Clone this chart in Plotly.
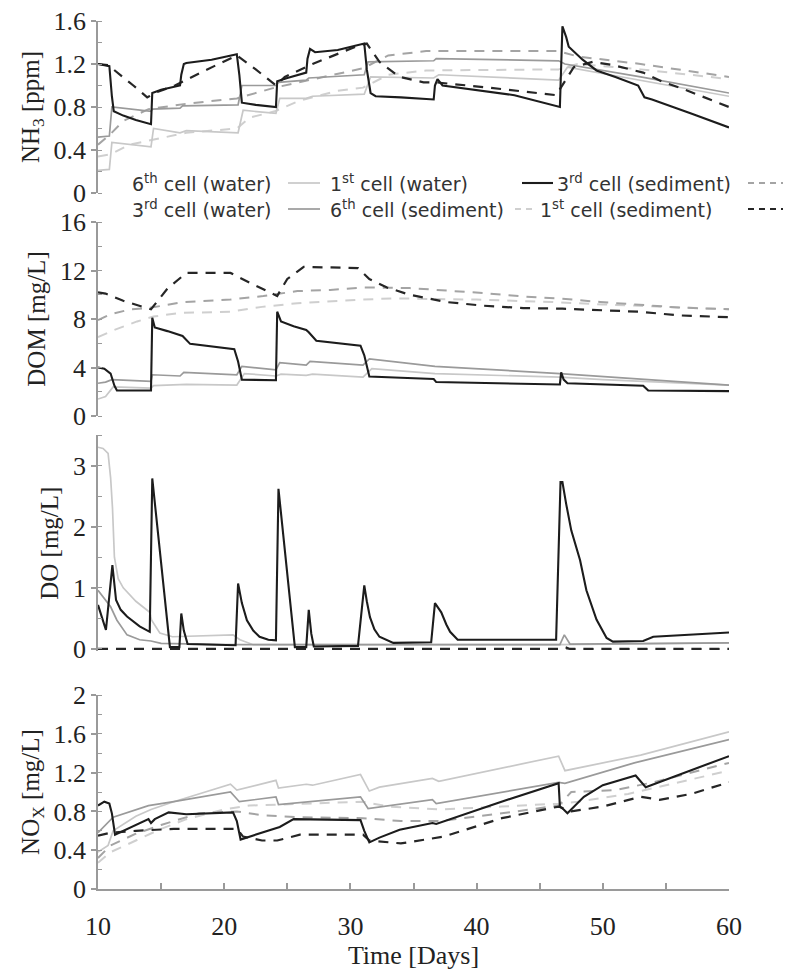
import plotly.graph_objects as go

# ---------------- data ----------------
SERIES = ["6S", "3S", "6W", "3W", "1S", "1W"]
NAMES = {
    "6W": "6<sup>th</sup> cell (water)",
    "3W": "3<sup>rd</sup> cell (water)",
    "1W": "1<sup>st</sup> cell (water)",
    "6S": "6<sup>th</sup> cell (sediment)",
    "3S": "3<sup>rd</sup> cell (sediment)",
    "1S": "1<sup>st</sup> cell (sediment)",
}

# NH3 [ppm]
NH3_T_1W = [10, 10.9, 11.1, 11.25, 12, 13, 14.2, 14.3, 15, 16.5, 16.6, 16.8, 17, 19, 21, 21.2, 21.4, 22.5, 24.1, 24.2,
            25, 26.5, 26.6, 26.8, 27.2, 29, 31.1, 31.3, 31.6, 32, 34, 36.6, 36.7, 36.9, 37.3, 40, 43, 46.6, 46.7,
            46.8, 47.1, 47.3, 48.4, 49.5, 51, 52.8, 53.3, 53.9, 57, 60]
NH3_V_1W = [1.2, 1.18, 0.9, 0.76, 0.72, 0.68, 0.64, 0.93, 0.96, 1.0, 1.1, 1.2, 1.21, 1.24, 1.29, 1.1, 0.84, 0.82, 0.8, 1.04,
            1.07, 1.12, 1.25, 1.34, 1.31, 1.33, 1.39, 1.15, 0.93, 0.9, 0.89, 0.87, 1.0, 1.06, 1.0, 0.96, 0.91, 0.8, 1.2,
            1.55, 1.45, 1.36, 1.24, 1.14, 1.08, 1.0, 0.89, 0.87, 0.74, 0.61]
NH3_T_1S = [10, 10.8, 12.8, 13.9, 14.7, 16.1, 18.3, 21, 22.5, 24.1, 24.8, 27, 30.6, 31.3, 32.3, 33.9, 35.8, 36.7, 41,
            46.3, 47.7, 49.2, 50.8, 53.2, 54.8, 56.1, 60]
NH3_V_1S = [1.2, 1.19, 1.0, 0.89, 0.94, 1.0, 1.13, 1.28, 1.15, 1.0, 1.08, 1.2, 1.37, 1.39, 1.22, 1.08, 1.03, 1.03, 0.98,
            0.91, 1.17, 1.22, 1.19, 1.12, 1.03, 0.98, 0.8]
NH3_T_3W = [10, 10.9, 11.1, 14.2, 14.3, 16.5, 16.7, 21.1, 21.4, 24.1, 24.3, 26.5, 26.7, 31.1, 31.4, 36.6, 36.8, 46.5,
            47, 53, 60]
NH3_V_3W = [0.52, 0.53, 0.8, 0.76, 0.78, 0.79, 0.81, 0.82, 1.0, 1.0, 1.03, 1.05, 1.07, 1.1, 1.22, 1.23, 1.25, 1.23,
            1.2, 1.08, 0.93]
NH3_T_6W = [10, 10.9, 11.1, 14.2, 14.4, 16.5, 17, 21.1, 21.5, 24.1, 24.4, 26.5, 27, 31.1, 31.6, 36.6, 37, 46.5, 47.2,
            53, 60]
NH3_V_6W = [0.21, 0.22, 0.47, 0.43, 0.6, 0.56, 0.58, 0.56, 0.77, 0.74, 0.88, 0.88, 0.9, 0.92, 1.08, 1.07, 1.1, 1.05,
            1.17, 1.05, 0.9]
NH3_T_3S = [10, 11, 12, 14, 17, 21, 24, 28, 31, 33, 36, 46.5, 48, 53, 60]
NH3_V_3S = [0.45, 0.55, 0.67, 0.78, 0.83, 0.88, 0.98, 1.08, 1.16, 1.28, 1.32, 1.32, 1.27, 1.2, 1.08]
NH3_T_6S = [10, 11, 12.5, 14.5, 17, 21, 22, 24, 26, 29, 31, 33, 36, 46.5, 48, 53, 60]
NH3_V_6S = [0.34, 0.36, 0.45, 0.5, 0.56, 0.6, 0.7, 0.76, 0.86, 0.95, 0.98, 1.1, 1.14, 1.15, 1.2, 1.15, 1.06]

# DOM [mg/L]
DOM_T_1W = [10, 10.5, 11, 11.3, 11.5, 14.2, 14.3, 14.5, 15.5, 16.5, 16.7, 17.3, 19, 20.8, 21.1, 21.4, 24.1, 24.2,
            24.5, 25.5, 26.5, 26.7, 27.3, 29, 30.8, 31.1, 31.5, 34, 36.6, 36.8, 40, 46.6, 46.7, 46.9, 47.2, 50,
            53.2, 53.6, 60]
DOM_V_1W = [4.0, 3.9, 3.5, 2.5, 2.1, 2.1, 8.1, 7.3, 7.0, 6.7, 6.6, 5.95, 5.75, 5.5, 4.5, 3.0, 2.95, 8.6,
            7.8, 7.4, 7.1, 6.9, 6.2, 6.0, 5.8, 5.0, 3.25, 3.15, 3.05, 2.8, 2.75, 2.6, 3.6, 3.0, 2.7, 2.6,
            2.5, 2.1, 2.05]
DOM_T_3W = [10, 10.6, 11.1, 14.2, 14.3, 16.5, 16.8, 21, 21.4, 24.1, 24.4, 26.5, 26.8, 31, 31.5, 36.7, 46.6, 60]
DOM_V_3W = [2.7, 2.8, 3.0, 2.85, 3.4, 3.3, 3.6, 3.4, 4.1, 3.8, 4.4, 4.2, 4.5, 4.2, 4.7, 4.1, 3.5, 2.55]
DOM_T_6W = [10, 10.6, 11.2, 14.2, 14.4, 16.5, 17, 21, 21.6, 24.1, 24.5, 26.5, 27, 31, 31.7, 36.7, 46.6, 50, 60]
DOM_V_6W = [1.4, 1.6, 2.4, 2.3, 2.5, 2.55, 2.6, 2.55, 3.5, 3.3, 3.45, 3.35, 3.45, 3.2, 3.9, 3.5, 3.2, 3.0, 2.55]
DOM_T_1S = [10, 10.6, 12, 14.2, 15.5, 17, 20.5, 22, 24.2, 25, 26.3, 30.6, 31.5, 32.9, 34.7, 37.6, 40.5, 43.7, 46.8,
            49.8, 52.9, 56, 60]
DOM_V_1S = [10.2, 10.1, 9.5, 8.8, 10.5, 11.8, 11.8, 11.0, 9.9, 11.3, 12.3, 12.2, 11.3, 10.6, 10.0, 9.4, 9.1, 8.9,
            8.85, 8.7, 8.6, 8.3, 8.15]
DOM_T_3S = [10, 11, 12.6, 14, 16.8, 20.5, 23.1, 25.8, 28.4, 31, 34.7, 37.6, 40.5, 43.7, 46.8, 49.8, 52.9, 56, 60]
DOM_V_3S = [7.9, 8.4, 8.8, 8.9, 9.4, 9.6, 9.9, 10.3, 10.4, 10.6, 10.55, 10.36, 10.14, 9.86, 9.67, 9.4, 9.17, 8.95,
            8.8]
DOM_T_6S = [10, 11.3, 13.1, 14.4, 16.5, 20.5, 23, 25.8, 31, 33.4, 40, 46, 50, 60]
DOM_V_6S = [6.5, 7.1, 7.8, 8.2, 8.5, 8.6, 9.0, 9.3, 9.6, 9.7, 9.6, 9.4, 9.2, 8.8]

# DO [mg/L]
DO_T_1W = [10, 10.63, 11.14, 11.43, 11.8, 12.3, 13.3, 14.1, 14.3, 15.7, 16.45, 16.6, 16.8, 17.1, 20.9, 21.1, 21.4,
           21.8, 22.3, 22.8, 23.5, 24.1, 24.3, 25.6, 26.5, 26.7, 26.9, 27.1, 30.6, 31.1, 31.3, 31.55, 31.9, 32.3,
           33.4, 36.4, 36.7, 37.2, 37.6, 37.9, 38.5, 46.3, 46.65, 46.8, 47.1, 47.5, 48.2, 48.7, 49.5, 50.3, 50.8,
           53.2, 54, 60]
DO_V_1W = [0.72, 0.31, 1.37, 0.8, 0.64, 0.53, 0.37, 0.28, 2.79, 0.03, 0.03, 0.58, 0.3, 0.08, 0.06, 1.07, 0.75,
           0.47, 0.3, 0.2, 0.15, 0.14, 2.62, 0.03, 0.03, 0.64, 0.25, 0.04, 0.05, 1.04, 0.78, 0.52, 0.32, 0.2,
           0.1, 0.11, 0.75, 0.6, 0.4, 0.28, 0.15, 0.15, 2.73, 2.73, 2.37, 1.94, 1.45, 0.96, 0.48, 0.18, 0.12,
           0.13, 0.2, 0.27]
DO_T_3W = [10, 11, 11.5, 12.3, 13.3, 14.2, 15, 20, 46.6, 46.95, 47.4, 60]
DO_V_3W = [0.96, 0.69, 0.47, 0.23, 0.15, 0.13, 0.09, 0.07, 0.07, 0.23, 0.08, 0.1]
DO_T_6W = [10, 10.4, 10.8, 11.0, 11.15, 11.3, 11.6, 12, 13, 14.1, 14.25, 14.9, 15.9, 20.7, 21.25, 22.3, 46.6, 60]
DO_V_6W = [3.3, 3.28, 3.2, 2.8, 2.3, 1.5, 1.15, 1.0, 0.78, 0.6, 0.47, 0.26, 0.2, 0.23, 0.15, 0.07, 0.07, 0.1]
DO_T_1S = [10, 46.6, 47.0, 47.4, 60]
DO_V_1S = [0.0, 0.0, 0.03, 0.0, 0.0]
DO_T_3S = [10, 60]
DO_V_3S = [0.0, 0.0]
DO_T_6S = [10, 60]
DO_V_6S = [0.0, 0.0]

# NOx [mg/L]
NOX_T_1W = [10, 10.5, 10.9, 11.1, 11.35, 12, 14, 14.2, 14.5, 15.6, 17, 20.7, 21, 21.3, 22.5, 24.2, 24.4, 25.5, 30.8,
            31.1, 31.5, 32.3, 33.9, 36.5, 36.8, 41.5, 46.5, 46.6, 46.9, 47.2, 48.5, 50, 52.6, 53.4, 60]
NOX_V_1W = [0.86, 0.9, 0.88, 0.78, 0.56, 0.6, 0.72, 0.68, 0.72, 0.79, 0.77, 0.79, 0.7, 0.51, 0.56, 0.63, 0.64, 0.72,
            0.71, 0.6, 0.48, 0.53, 0.61, 0.68, 0.67, 0.88, 1.09, 0.85, 0.82, 0.78, 0.95, 1.07, 1.17, 1.05, 1.37]
NOX_T_1S = [10, 11, 13, 16, 21, 21.5, 23, 24.2, 26, 31, 31.5, 34, 37.4, 42, 46.5, 47.5, 50, 53, 54.5, 57, 60]
NOX_V_1S = [0.55, 0.58, 0.6, 0.62, 0.62, 0.54, 0.5, 0.5, 0.56, 0.56, 0.5, 0.47, 0.54, 0.73, 0.85, 0.8, 0.85, 0.95,
            0.92, 0.98, 1.1]
NOX_T_6W = [10, 10.8, 11.2, 13, 14.2, 16, 20.5, 21, 24.1, 24.3, 26.5, 27, 30.8, 31.5, 32.3, 36.5, 37, 46.5, 47, 53, 60]
NOX_V_6W = [0.38, 0.45, 0.6, 0.75, 0.82, 0.9, 1.08, 1.02, 1.12, 1.04, 1.08, 1.07, 1.18, 1.01, 1.05, 1.14, 1.11, 1.37,
            1.22, 1.38, 1.62]
NOX_T_3W = [10, 10.6, 11.2, 14, 16, 20.5, 21.2, 24.1, 24.3, 30.8, 31.4, 36.5, 36.8, 46.5, 47, 52.5, 60]
NOX_V_3W = [0.58, 0.66, 0.74, 0.86, 0.9, 1.0, 0.9, 0.95, 0.87, 0.95, 0.83, 0.92, 0.88, 1.1, 1.09, 1.3, 1.54]
NOX_T_3S = [10, 11, 13, 15, 18, 21, 23, 26, 31, 34, 37, 42, 46.5, 47.5, 51, 54, 60]
NOX_V_3S = [0.32, 0.45, 0.57, 0.66, 0.78, 0.8, 0.76, 0.74, 0.73, 0.7, 0.7, 0.78, 0.86, 1.0, 1.02, 1.1, 1.3]
NOX_T_6S = [10, 11, 13, 15, 17, 20, 22, 26, 31, 33, 37, 42, 46.5, 48, 52, 60]
NOX_V_6S = [0.27, 0.38, 0.5, 0.62, 0.72, 0.82, 0.86, 0.88, 0.9, 0.85, 0.82, 0.85, 0.88, 0.9, 0.98, 1.22]

X_TICKS = [10, 20, 30, 40, 50, 60]
Y_TITLES = ["NH<sub>3</sub> [ppm]", "DOM [mg/L]", "DO [mg/L]", "NO<sub>X</sub> [mg/L]"]
X_TITLE = "Time [Days]"

PANELS = [
    {"1W": (NH3_T_1W, NH3_V_1W), "1S": (NH3_T_1S, NH3_V_1S), "3W": (NH3_T_3W, NH3_V_3W),
     "6W": (NH3_T_6W, NH3_V_6W), "3S": (NH3_T_3S, NH3_V_3S), "6S": (NH3_T_6S, NH3_V_6S)},
    {"1W": (DOM_T_1W, DOM_V_1W), "1S": (DOM_T_1S, DOM_V_1S), "3W": (DOM_T_3W, DOM_V_3W),
     "6W": (DOM_T_6W, DOM_V_6W), "3S": (DOM_T_3S, DOM_V_3S), "6S": (DOM_T_6S, DOM_V_6S)},
    {"1W": (DO_T_1W, DO_V_1W), "1S": (DO_T_1S, DO_V_1S), "3W": (DO_T_3W, DO_V_3W),
     "6W": (DO_T_6W, DO_V_6W), "3S": (DO_T_3S, DO_V_3S), "6S": (DO_T_6S, DO_V_6S)},
    {"1W": (NOX_T_1W, NOX_V_1W), "1S": (NOX_T_1S, NOX_V_1S), "3W": (NOX_T_3W, NOX_V_3W),
     "6W": (NOX_T_6W, NOX_V_6W), "3S": (NOX_T_3S, NOX_V_3S), "6S": (NOX_T_6S, NOX_V_6S)},
]

# ---------------- styles / layout ----------------
DASH = "10px,8px"
STYLE = {
    "6W": dict(color="#c8c8c8", width=1.7, dash="solid"),
    "3W": dict(color="#9a9a9a", width=1.7, dash="solid"),
    "1W": dict(color="#1c1c1c", width=2.1, dash="solid"),
    "6S": dict(color="#cfcfcf", width=2.0, dash=DASH),
    "3S": dict(color="#a4a4a4", width=2.0, dash=DASH),
    "1S": dict(color="#262626", width=2.2, dash=DASH),
}

W, H = 788, 973
ML, MR, MT, MB = 98, 59, 21, 84
PW, PH = W - ML - MR, H - MT - MB


def py2paper(py):
    return (H - MB - py) / PH


def px2paper(px):
    return (px - ML) / PW


# pixel position of each panel's range bottom and top
Y_RANGES = [[0, 1.6], [0, 16], [-0.04, 3.5], [0, 2]]
Y_PIX = [(193, 21), (416, 222), (651.4, 435), (889, 695)]
Y_DTICK = [0.4, 4, 1, 0.4]
Y_MINOR = [0.2, 2, 0.5, 0.2]

SERIF = "Liberation Serif, Times New Roman, serif"
AX_COLOR = "#9a9a9a"
TXT = "#222222"

fig = go.Figure()
for i, panel in enumerate(PANELS):
    sfx = "" if i == 0 else str(i + 1)
    for key in SERIES:
        t, v = panel[key]
        fig.add_trace(go.Scatter(x=t, y=v, mode="lines", line=STYLE[key], name=NAMES[key],
                                 showlegend=False, xaxis="x" + sfx, yaxis="y" + sfx,
                                 hoverinfo="skip"))

layout = dict(width=W, height=H, margin=dict(l=ML, r=MR, t=MT, b=MB),
              paper_bgcolor="white", plot_bgcolor="white", showlegend=False)

for i in range(4):
    sfx = "" if i == 0 else str(i + 1)
    bot, top = Y_PIX[i]
    last = i == 3
    layout["xaxis" + sfx] = dict(
        domain=[0, 1], anchor="y" + sfx, range=[10, 60], showgrid=False, zeroline=False,
        visible=last, showline=last, linecolor=AX_COLOR, linewidth=1.5,
        tickmode="array", tickvals=X_TICKS, ticks="inside", ticklen=6, tickcolor=AX_COLOR, tickwidth=1.5,
        minor=dict(dtick=5, tick0=10, ticks="inside", ticklen=6, tickcolor=AX_COLOR, tickwidth=1.5),
        tickfont=dict(family=SERIF, size=26, color=TXT), ticklabelstandoff=13,
        title=dict(text=X_TITLE if last else "", font=dict(family=SERIF, size=26, color=TXT), standoff=2),
        automargin=False,
    )
    layout["yaxis" + sfx] = dict(
        domain=[py2paper(bot), py2paper(top)], anchor="x" + sfx, range=Y_RANGES[i],
        showgrid=False, zeroline=False, showline=True, linecolor=AX_COLOR, linewidth=1.5,
        tick0=0, dtick=Y_DTICK[i], ticks="outside", ticklen=5, tickcolor=AX_COLOR, tickwidth=1.5,
        minor=dict(dtick=Y_MINOR[i], tick0=0, ticks="inside", ticklen=4, tickcolor=AX_COLOR, tickwidth=1.2),
        tickfont=dict(family=SERIF, size=26, color=TXT),
        title=dict(text=Y_TITLES[i], font=dict(family=SERIF, size=25, color=TXT), standoff=7),
        automargin=False,
    )

# legend: label followed by a line sample (drawn as annotations + shapes)
LEG_ROWS = [
    [("6W", 130, 288, 320), ("1W", 328, 522, 553), ("3S", 555, 748, 783)],
    [("3W", 130, 288, 320), ("6S", 328, 515, 533), ("1S", 538, 748, 783)],
]
LEG_Y = [183, 209]
annotations, shapes = [], []
for r, row in enumerate(LEG_ROWS):
    yp = py2paper(LEG_Y[r])
    for key, tx, l0, l1 in row:
        annotations.append(dict(text=NAMES[key], x=px2paper(tx), y=yp, xref="paper", yref="paper",
                                xanchor="left", yanchor="middle", showarrow=False,
                                font=dict(family="DejaVu Sans, sans-serif", size=19, color="#333333")))
        st = STYLE[key]
        shapes.append(dict(type="line", xref="paper", yref="paper", x0=px2paper(l0), x1=px2paper(l1),
                           y0=yp, y1=yp, line=dict(color=st["color"], width=st["width"],
                                                   dash="6px,5px" if st["dash"] != "solid" else "solid")))
layout["annotations"] = annotations
layout["shapes"] = shapes

fig.update_layout(**layout)
fig.write_html("out.html")
